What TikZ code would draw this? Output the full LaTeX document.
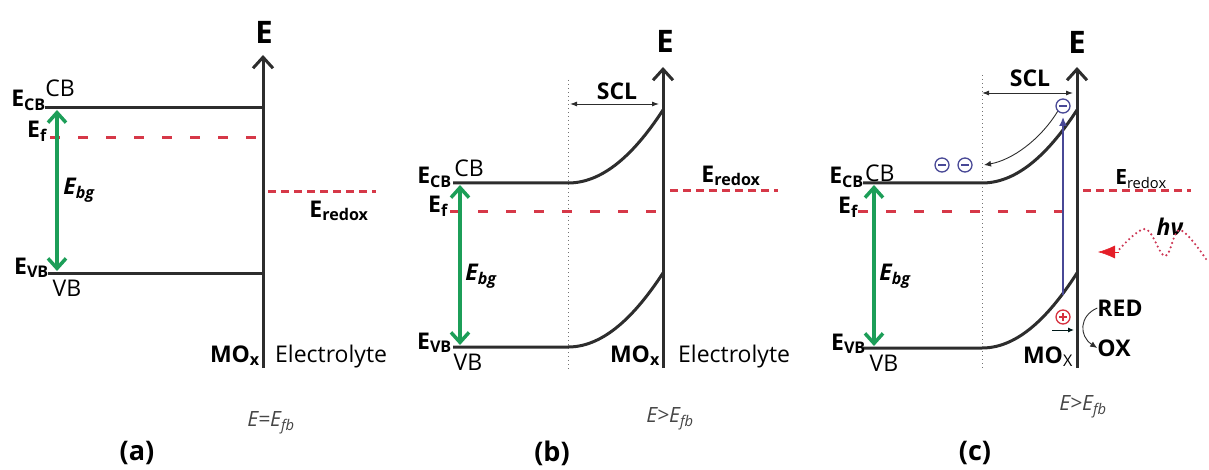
\documentclass[tikz,border=0pt]{standalone}
\usepackage{fontspec}
\setmainfont{Open Sans}
\usetikzlibrary{arrows.meta}
\definecolor{bandc}{RGB}{45,45,45}
\definecolor{fermired}{RGB}{214,56,72}
\definecolor{gapgreen}{RGB}{28,158,88}
\definecolor{eblue}{RGB}{72,72,150}
\definecolor{hred}{RGB}{214,48,62}
\definecolor{wavered}{RGB}{205,55,85}
\definecolor{tipred}{RGB}{228,30,40}
\definecolor{condgray}{RGB}{70,70,70}
\begin{document}
\begin{tikzpicture}[x=1pt,y=-1pt,
  bandline/.style={draw=bandc,line width=3pt},
  axisline/.style={draw=bandc,line width=3pt,-{Straight Barb[length=11pt,width=20pt]}},
  gaparrow/.style={draw=gapgreen,line width=3.5pt,{Straight Barb[length=10pt,width=18pt]}-{Straight Barb[length=10pt,width=18pt]}},
  fermi/.style={draw=fermired,line width=3pt,dash pattern=on 10pt off 18pt},
  redox/.style={draw=fermired,line width=3pt,dash pattern=on 8pt off 5pt},
  scldot/.style={draw=black!55,line width=0.9pt,dash pattern=on 1pt off 3pt},
  sclarrow/.style={draw=bandc,line width=0.9pt,{Latex[length=7pt,width=5pt]}-{Latex[length=7pt,width=5pt]}},
  bigE/.style={font=\fontsize{31}{34}\selectfont\bfseries,inner sep=0pt},
  lab/.style={font=\fontsize{23}{26}\selectfont\bfseries,inner sep=0pt},
  reg/.style={font=\fontsize{23}{26}\selectfont,inner sep=0pt},
  gapl/.style={font=\fontsize{23}{26}\selectfont\bfseries\itshape,inner sep=0pt},
  cond/.style={font=\fontsize{21}{24}\selectfont\itshape,text=condgray,inner sep=0pt},
  pan/.style={font=\fontsize{27}{30}\selectfont\bfseries,inner sep=0pt},
  electron/.style={circle,draw=eblue,fill=white,line width=1.3pt,minimum size=14pt,inner sep=0pt,
    path picture={\draw[eblue,line width=1.6pt] ([xshift=-4pt]path picture bounding box.center) -- ([xshift=4pt]path picture bounding box.center);}},
  hole/.style={circle,draw=hred,fill=white,line width=1.3pt,minimum size=14pt,inner sep=0pt,
    path picture={\draw[hred,line width=1.6pt] ([xshift=-4pt]path picture bounding box.center) -- ([xshift=4pt]path picture bounding box.center)
      ([yshift=-4pt]path picture bounding box.center) -- ([yshift=4pt]path picture bounding box.center);}},
  thinarrow/.style={draw=bandc,line width=0.9pt,-{Latex[length=7pt,width=6pt]}},
]
\useasboundingbox (0,0) rectangle (1209,470);

% ================= panel (a) =================
\coordinate (a-ax0) at (263,368);
\coordinate (a-ax1) at (263,55);
\draw[bandline] (45,108) -- (263,108);
\draw[bandline] (48,273) -- (263,273);
\draw[fermi] (50,138) -- (261,138);
\draw[redox] (268,192) -- (376,192);
\draw[axisline] (a-ax0) -- (a-ax1);
\coordinate (a-g0) at (57,110);
\coordinate (a-g1) at (57,271);
\draw[gaparrow] (a-g0) -- (a-g1);
\node[bigE] (a-E) at (264,32) {E};
\node[lab,anchor=base east] (a-Ecb) at (46,107) {E\textsubscript{CB}};
\node[lab,anchor=base east] (a-Ef) at (47,138) {E\textsubscript{f}};
\node[lab,anchor=base east] (a-Evb) at (49,274) {E\textsubscript{VB}};
\node[reg] (a-CB) at (60,88) {CB};
\node[reg] (a-VB) at (67,288) {VB};
\node[gapl] (a-Ebg) at (79,190) {E\textsubscript{bg}};
\node[lab] (a-Er) at (339,211) {E\textsubscript{redox}};
\node[lab,anchor=base east] (a-MO) at (260,362) {MO\textsubscript{x}};
\node[reg,anchor=base west] (a-El) at (275,362) {Electrolyte};
\node[cond] (a-cond) at (271,423) {E=E\textsubscript{fb}};
\node[pan] (a-lab) at (137,453) {(a)};

% ================= panel (b) =================
\coordinate (b-ax0) at (663,368);
\coordinate (b-ax1) at (663,67);
\draw[scldot] (568,80) -- (568,370);
\draw[bandline] (453,183) -- (568,183) .. controls (600,183) and (631,159) .. (663,110);
\draw[bandline] (453,347) -- (568,347) .. controls (600,347) and (631,322) .. (663,273);
\draw[fermi] (450,212) -- (656,212);
\draw[redox] (670,191) -- (778,191);
\draw[axisline] (b-ax0) -- (b-ax1);
\coordinate (b-s0) at (570,104);
\coordinate (b-s1) at (659,104);
\draw[sclarrow] (b-s0) -- (b-s1);
\coordinate (b-g0) at (460,185);
\coordinate (b-g1) at (460,345);
\draw[gaparrow] (b-g0) -- (b-g1);
\node[bigE] (b-E) at (665,41) {E};
\node[lab] (b-SCL) at (617,91) {SCL};
\node[lab,anchor=base east] (b-Ecb) at (452,184) {E\textsubscript{CB}};
\node[lab,anchor=base east] (b-Ef) at (448,213) {E\textsubscript{f}};
\node[lab,anchor=base east] (b-Evb) at (452,349) {E\textsubscript{VB}};
\node[reg] (b-CB) at (469,168) {CB};
\node[reg] (b-VB) at (468,362) {VB};
\node[gapl] (b-Ebg) at (481,276) {E\textsubscript{bg}};
\node[lab] (b-Er) at (731,176) {E\textsubscript{redox}};
\node[lab,anchor=base east] (b-MO) at (660,362) {MO\textsubscript{x}};
\node[reg,anchor=base west] (b-El) at (678,362) {Electrolyte};
\node[cond] (b-cond) at (670,419) {E>E\textsubscript{fb}};
\node[pan] (b-lab) at (552,453) {(b)};

% ================= panel (c) =================
\coordinate (c-ax0) at (1077,368);
\coordinate (c-ax1) at (1077,67);
\draw[scldot] (982,75) -- (982,370);
\draw[bandline] (863,183) -- (982,183) .. controls (1014,183) and (1045,159) .. (1077,110);
\draw[bandline] (863,348) -- (982,348) .. controls (1014,348) and (1045,323) .. (1077,273);
\draw[fermi] (858,212) -- (1068,212);
\draw[redox] (1083,191) -- (1191,191);
% excitation
\node[electron] (c-e0) at (1063,106) {};
\node[electron] (c-e1) at (942,165) {};
\node[electron] (c-e2) at (965,165) {};
\node[hole] (c-h) at (1063,317) {};
\coordinate (c-x0) at (1063,295);
\coordinate (c-x1) at (1063,117);
\draw[draw=eblue,line width=1.6pt,-{Latex[length=9pt,width=8pt]}] (c-x0) -- (c-x1);
\draw[axisline] (c-ax0) -- (c-ax1);
\coordinate (c-s0) at (982,93);
\coordinate (c-s1) at (1073,93);
\draw[sclarrow] (c-s0) -- (c-s1);
\coordinate (c-t1) at (984,165);
\draw[thinarrow] (c-e0.south west) .. controls (1040,140) and (1012,160) .. (c-t1);
\coordinate (c-p0) at (1052,330);
\coordinate (c-p1) at (1074,330);
\draw[draw=black!80!teal,line width=1pt,-{Latex[length=6pt,width=5pt]}] (c-p0) -- (c-p1);
\coordinate (c-g0) at (874,185);
\coordinate (c-g1) at (874,346);
\draw[gaparrow] (c-g0) -- (c-g1);
\node[bigE] (c-E) at (1077,42) {E};
\node[lab] (c-SCL) at (1030,78) {SCL};
\node[lab,anchor=base east] (c-Ecb) at (864,184) {E\textsubscript{CB}};
\node[reg,anchor=base west] (c-CB) at (865,182) {CB};
\node[lab,anchor=base east] (c-Ef) at (858,214) {E\textsubscript{f}};
\node[lab,anchor=base east] (c-Evb) at (866,350) {E\textsubscript{VB}};
\node[reg] (c-VB) at (884,363) {VB};
\node[gapl] (c-Ebg) at (895,276) {E\textsubscript{bg}};
\node[font=\fontsize{21}{24}\selectfont\bfseries,inner sep=0pt] (c-Er) at (1141,179) {E\textsubscript{\mdseries redox}};
\node[lab,anchor=base east] (c-MO) at (1073,363) {MO\textsubscript{\mdseries X}};
\node[lab] (c-RED) at (1120,308) {RED};
\node[lab] (c-OX) at (1114,348) {OX};
\draw[thinarrow] (c-RED.west) .. controls (1079,316) and (1079,336) .. (c-OX.west);
% light
\node[gapl] (c-hv) at (1170,227) {hν};
\draw[wavered,line width=2.4pt,line cap=round,dash pattern=on 0pt off 4.6pt]
  plot[smooth,tension=0.6] coordinates {(1206,259) (1180,230) (1165,256) (1145,229) (1117,252)};
\coordinate (c-a0) at (1119,252);
\coordinate (c-a1) at (1098,252);
\draw[tipred,line width=0.5pt,-{Latex[length=17pt,width=13pt]}] (c-a0) -- (c-a1);
\node[cond] (c-cond) at (1083,407) {E>E\textsubscript{fb}};
\node[pan] (c-lab) at (975,453) {(c)};
\end{tikzpicture}
\end{document}
